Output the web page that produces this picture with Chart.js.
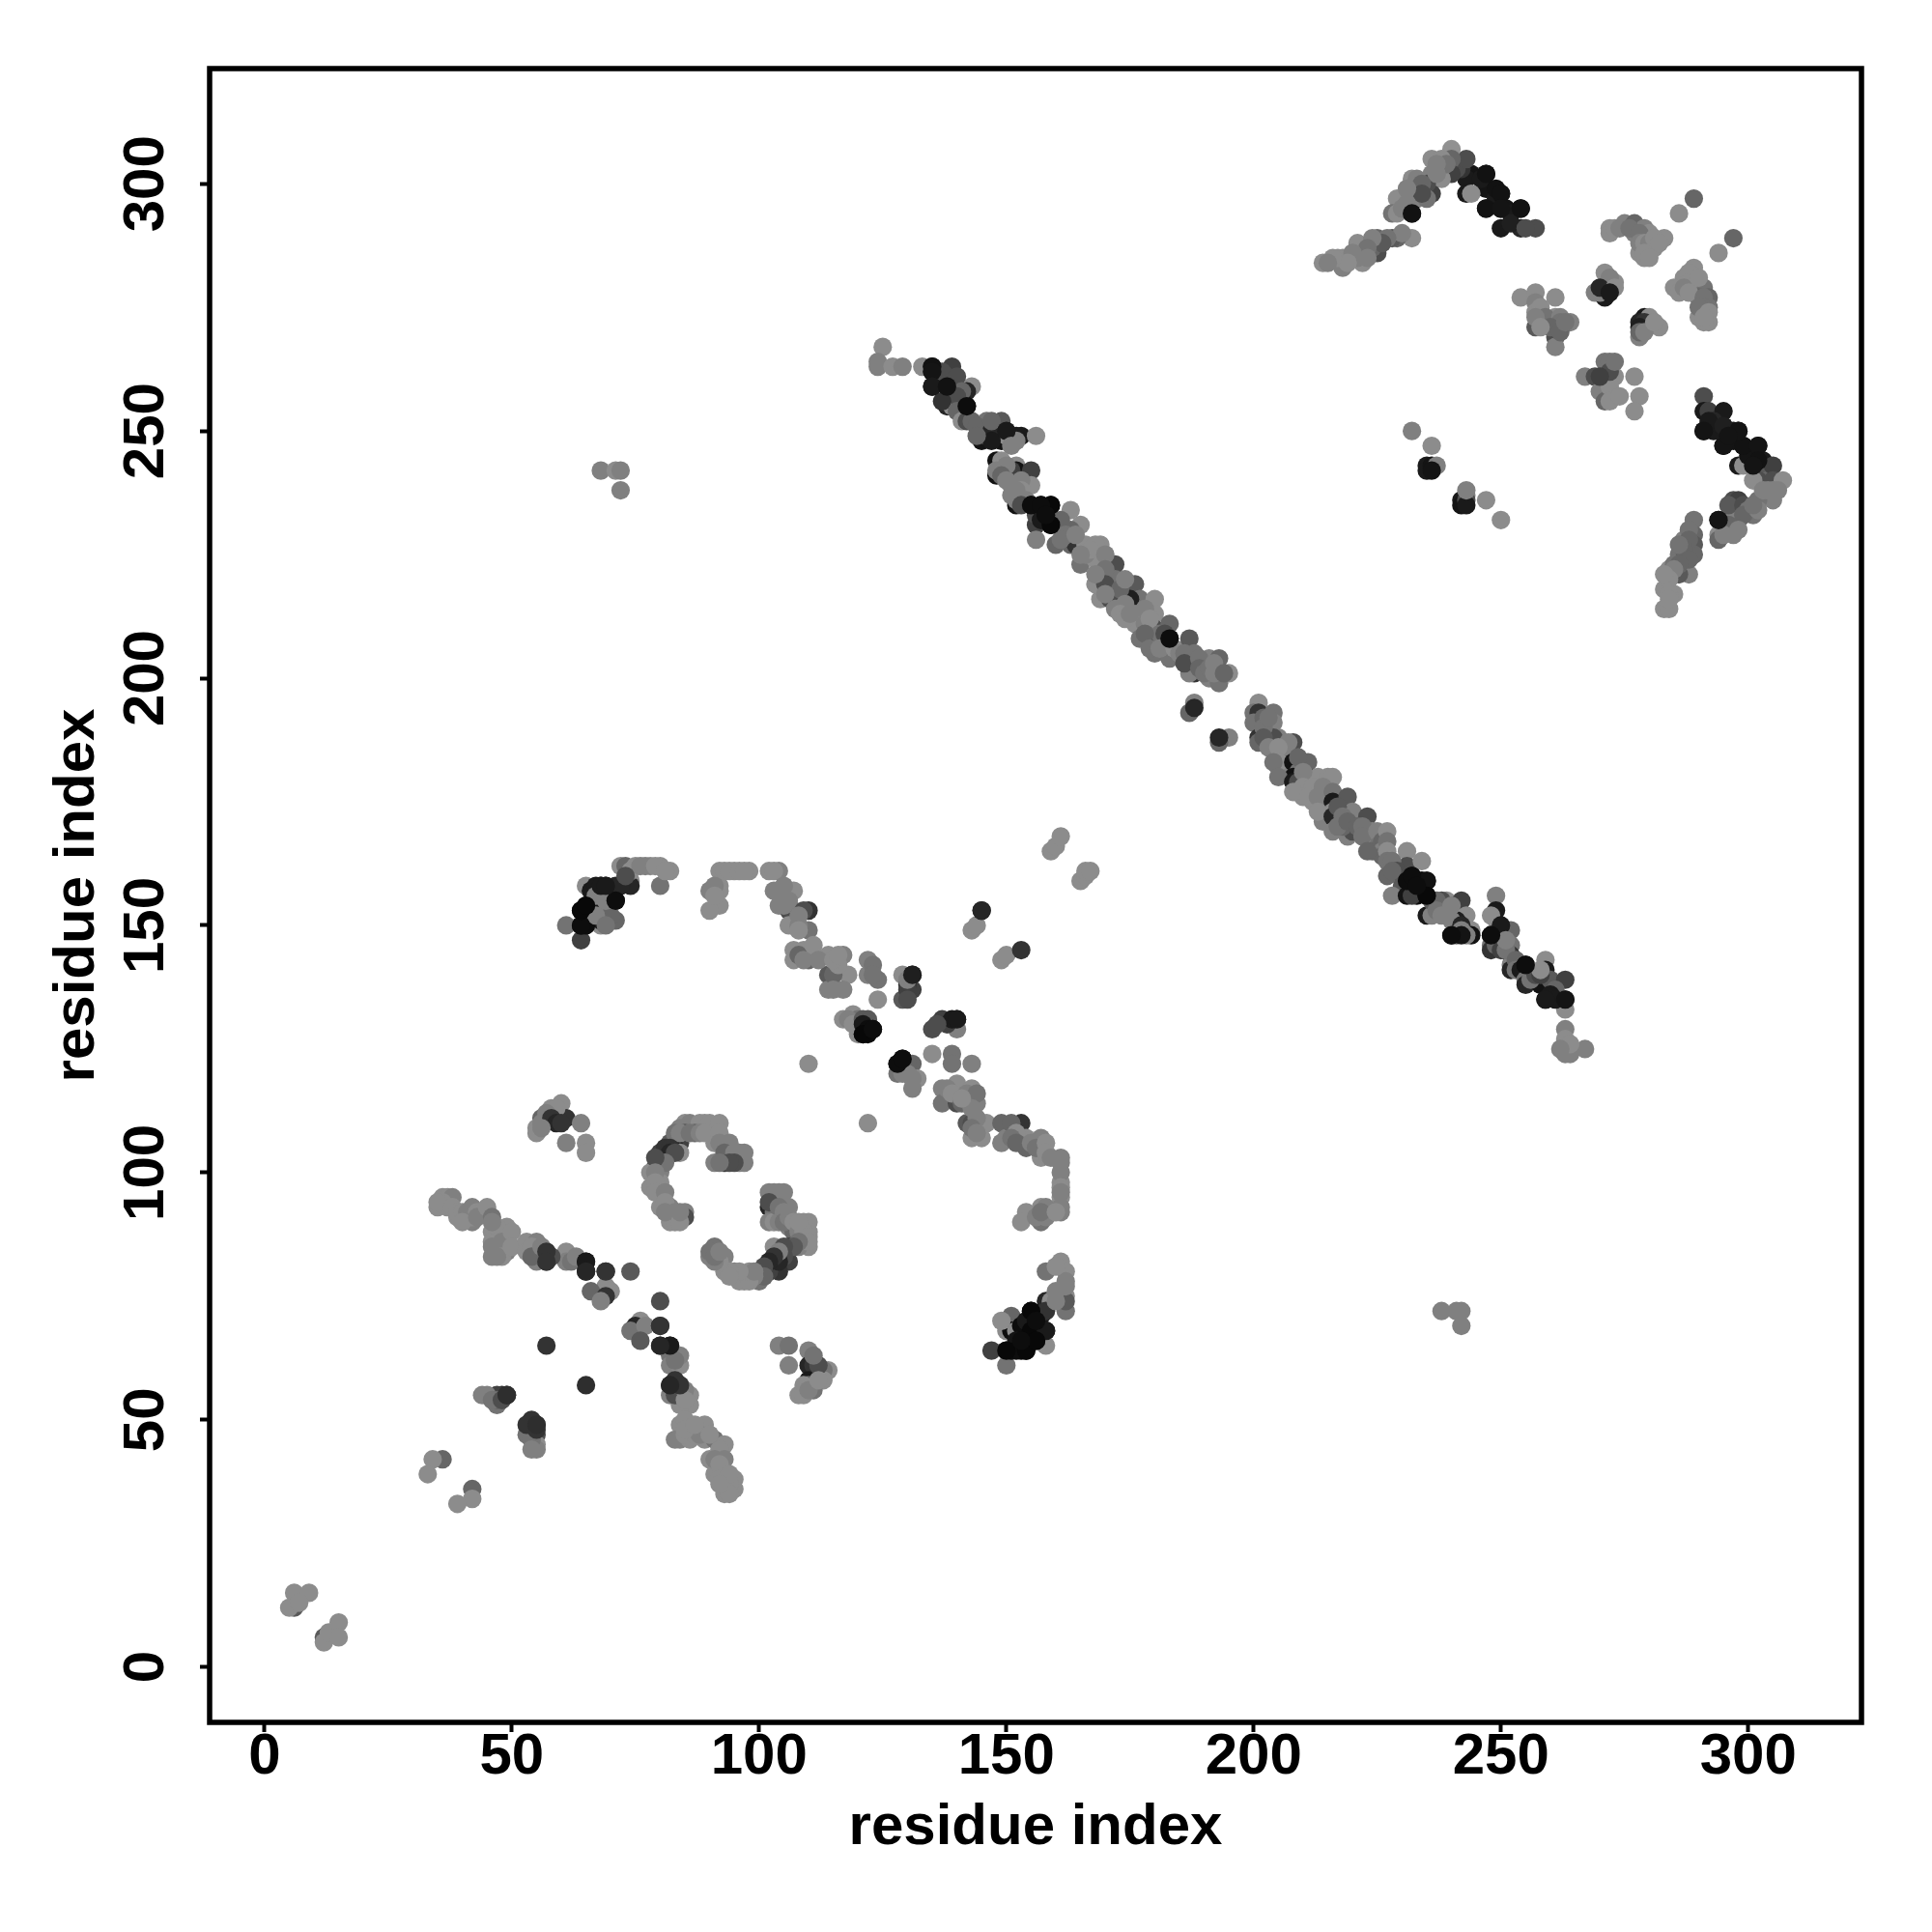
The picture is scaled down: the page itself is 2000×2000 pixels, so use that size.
<!DOCTYPE html>
<html>
<head>
<meta charset="utf-8">
<title>residue contact map</title>
<script src="https://cdn.jsdelivr.net/npm/chart.js@4/dist/chart.umd.min.js"></script>
<style>
  body { margin: 0; background: #fff; }
  canvas { display: block; }
</style>
</head>
<body>
<canvas id="contactMap" width="2000" height="2000"></canvas>
<script>
/* each contact is [residue x, residue y, grey level 0..1] */
const tickValues = [0, 50, 100, 150, 200, 250, 300];
const axisLabel = "residue index";

const cornerLow = [[6,15,.55],[9,15,.55],[6,12,.35],[5,12,.55],[7,13,.55],[12,6,.35],[12,5,.55],[13,7,.55],[15,9,.55],[15,6,.55]];

const lowStrand = [[36,42,.4],[34,42,.55],[33,39,.55],[42,36,.4],[42,34,.55],[39,33,.55],
  [48,55,.18],[47,55,.25],[44,55,.5],[45,55,.5],[47,53,.45],[47,54,.4],[46,54,.45],[48,54,.3],[49,55,.18],
  [55,49,.18],[54,48,.2],[55,47,.3],[53,47,.45],[55,45,.55],[55,44,.5],[54,46,.45],[54,44,.5],[55,48,.2],[54,50,.2],[53,49,.2],
  [57,65,.2],[65,57,.18]];

const crossDown = [[35,93,.55],[36,95,.55],[37,95,.55],[38,95,.5],[37,93,.55],[39,91,.55],[42,93,.5],[42,90,.5],[42,91,.55],
  [36,94,.55],[35,94,.55],[38,93,.55],[39,92,.55],[40,92,.55],[41,92,.5],[43,92,.55],[40,90,.55],[44,92,.55],[43,91,.5],
  [45,93,.55],[46,91,.45],[46,88,.55],[46,86,.55],[46,83,.5],[49,89,.55],[49,86,.55],[49,84,.5],[48,84,.55],
  [47,89,.55],[46,90,.5],[47,86,.55],[47,84,.5],[46,85,.5],[48,86,.5],[50,88,.55],[48,83,.55],[47,83,.5],[50,85,.55],
  [53,86,.55],[55,86,.5],[55,84,.3],[53,84,.55],[55,82,.5],[57,84,.2],[57,82,.2],[61,84,.55],[61,82,.5],[62,82,.45],
  [54,85,.55],[54,83,.4],[56,85,.5],[58,83,.3],[63,83,.5],
  [65,82,.1],[65,80,.15],[69,80,.2],[74,80,.35],[69,77,.55],[66,76,.4],[70,76,.55],[69,75,.2],[68,74,.5],
  [80,74,.3],[76,70,.55],[75,69,.15],[74,68,.45],[77,69,.5],[80,69,.2],[76,66,.35],[80,65,.15],[82,65,.1],
  [82,63,.45],[82,61,.5],[84,61,.55],[82,57,.15],[84,57,.2],[82,55,.5],[86,55,.55],[84,55,.15],[86,53,.55],[84,53,.55],
  [84,63,.5],[83,62,.45],[83,58,.2],[83,55,.3],[85,56,.5],[85,54,.55],
  [84,49,.55],[86,49,.55],[89,49,.55],[83,46,.5],[84,46,.5],[86,46,.55],[89,46,.55],[91,46,.45],[93,45,.55],
  [85,50,.55],[85,47,.55],[87,47,.55],[88,47,.5],[85,48,.55],[87,49,.55],[90,47,.55],[92,44,.55],
  [90,42,.55],[93,42,.5],[91,39,.55],[95,38,.55],[93,38,.55],[95,36,.55],[93,35,.55],
  [91,42,.5],[92,41,.55],[92,38,.55],[94,37,.55],[94,39,.55],[94,35,.55],[92,37,.55]];

const smallPatch = [[60,114,.55],[58,113,.55],[57,111,.1],[61,111,.2],[56,111,.4],[64,110,.5],[55,109,.55],[55,108,.55],[61,106,.5],[65,106,.55],[65,104,.55],
  [59,113,.55],[56,110,.5],[57,112,.5],[58,111,.2],[59,110,.15],[60,110,.2],[56,109,.5]];

const arcUpper = [[85,110,.55],[89,110,.55],[86,110,.5],[88,110,.55],[90,110,.55],[84,109,.5],[85,108,.35],[82,106,.35],[87,108,.4],[84,106,.25],
  [80,104,.25],[81,103,.07],[83,105,.15],[84,104,.55],[79,101,.3],[80,102,.2],[80,100,.5],[78,100,.55],[78,97,.55],[80,96,.5],[80,98,.55],
  [80,93,.55],[82,93,.5],[82,90,.55],[83,90,.55],[85,92,.5],[85,91,.3],
  [91,108,.55],[93,106,.5],[91,106,.55],[96,104,.5],[93,102,.2],[96,102,.5],[91,102,.5],[94,103,.45],
  [83,108,.45],[84,108,.5],[86,108,.45],[88,108,.5],[89,108,.55],[81,105,.2],[82,105,.2],[82,104,.15],[83,104,.3],[81,102,.45],[79,103,.3],[79,100,.5],[79,98,.55],[79,96,.55],
  [81,96,.5],[81,94,.55],[81,92,.5],[83,92,.5],[84,90,.55],[84,92,.5],[92,110,.55],[92,108,.55],[92,106,.5],[94,106,.5],[93,104,.4],[95,104,.5],[97,104,.5],[97,102,.5],[95,102,.3],[94,102,.3],[92,102,.45]];

const arcLower = [[103,96,.5],[102,96,.5],[103,94,.45],[102,93,.15],[103,92,.45],[106,93,.5],[102,90,.5],[106,89,.5],[110,90,.55],[110,88,.55],
  [107,88,.4],[110,85,.55],[108,85,.5],[106,85,.25],[103,85,.55],[106,82,.25],[103,81,.07],[102,80,.3],[104,80,.2],[100,78,.45],[102,80,.25],
  [100,80,.5],[97,78,.55],[96,78,.55],[95,80,.5],[93,80,.55],[90,83,.5],[91,85,.45],[93,83,.5],[90,84,.45],
  [104,96,.5],[105,96,.5],[102,94,.3],[103,90,.55],[104,93,.45],[104,90,.5],[105,92,.5],[105,90,.45],[106,91,.5],[107,90,.55],[108,88,.5],[109,90,.55],[109,88,.55],[108,90,.55],[110,87,.55],[110,86,.55],
  [108,86,.45],[107,85,.35],[105,83,.3],[105,85,.3],[104,82,.15],[104,84,.5],[103,83,.2],[102,82,.15],[101,81,.3],[101,79,.4],[99,79,.5],[98,78,.55],[98,80,.55],[99,80,.5],[96,80,.55],[94,80,.55],[94,79,.55],
  [92,82,.55],[91,82,.5],[91,83,.45],[92,84,.5]];

const hookLeft = [[64,147,.25],[61,150,.45],[64,150,.05],[64,153,.03],[65,154,.03],[71,151,.4],[68,150,.55],[68,151,.1],[68,152,.55],[68,154,.45],
  [71,155,.05],[68,158,.1],[69,158,.1],[65,158,.55],[71,158,.15],[74,159,.55],[74,158,.15],[72,162,.55],[73,162,.4],[75,162,.55],[78,162,.55],[80,162,.55],[80,158,.45],[82,161,.55],
  [65,152,.05],[65,150,.05],[66,154,.1],[66,157,.1],[67,158,.1],[70,157,.1],[70,155,.1],[72,158,.15],[70,152,.4],[67,152,.5],[69,150,.45],[67,156,.5],[69,155,.5],[74,161,.55],[76,162,.5],[73,160,.3],[77,162,.5],[79,162,.55],[81,161,.55]];

const crossUp = [[92,161,.55],[95,161,.55],[98,161,.55],[102,161,.55],[104,161,.5],[90,157,.5],[92,158,.55],[92,157,.55],[92,154,.55],[90,153,.55],
  [93,161,.55],[94,161,.55],[96,161,.55],[97,161,.55],[103,161,.55],[91,158,.5],[91,156,.55],
  [103,157,.5],[107,157,.55],[104,154,.5],[107,153,.55],[106,153,.3],[110,153,.2],[110,149,.45],[107,150,.5],[106,150,.55],
  [105,158,.5],[105,155,.5],[106,155,.5],[105,154,.5],[108,150,.5],[109,153,.3],[108,152,.5],[108,149,.55],
  [107,145,.55],[107,143,.55],[110,145,.55],[111,144,.55],[110,143,.4],[114,144,.55],[117,144,.5],[114,140,.35],[118,140,.55],[114,137,.5],[117,137,.5],
  [109,145,.55],[108,144,.4],[109,143,.5],[111,146,.55],[112,143,.5],[115,140,.4],[116,142,.55],[115,143,.55],[116,144,.55],[115,137,.5],
  [122,143,.5],[122,140,.5],[124,139,.45],[124,135,.55],[129,140,.55],[131,140,.12],[131,137,.25],[129,135,.35],
  [123,142,.45],[123,140,.45],[130,138,.2],[130,137,.25],[130,135,.3],[130,139,.5],
  [117,131,.55],[119,132,.55],[120,131,.45],[122,131,.35],[120,128,.55],[121,128,.03],[123,129,.05],[128,122,.05],[129,123,.05],[128,120,.45],[131,122,.4],[132,119,.55],[131,117,.5],
  [118,131,.5],[119,130,.55],[121,131,.35],[121,130,.1],[122,129,.05],[122,128,.04],[129,121,.1],[130,122,.4],[129,120,.5],[130,120,.5],[131,119,.5],
  [135,129,.3],[137,131,.25],[140,131,.1],[140,129,.5],[135,124,.55],[139,124,.45],[139,122,.45],[143,122,.5],[138,130,.25],[139,131,.1],[136,130,.3],
  [137,117,.5],[140,118,.55],[143,117,.55],[137,114,.45],[140,114,.3],[144,114,.5],[142,110,.35],[143,110,.3],[146,110,.55],[143,107,.55],[145,107,.55],
  [138,117,.5],[139,116,.55],[142,116,.5],[144,116,.45],[141,114,.4],[143,113,.5],[141,115,.55],[144,111,.5],[143,109,.45],[144,108,.5],
  [149,110,.4],[153,110,.2],[150,107,.5],[149,106,.5],[154,107,.55],[154,105,.4],[157,107,.5],[157,104,.5],[157,103,.55],[161,103,.5],[161,102,.5],
  [151,110,.4],[152,108,.55],[151,107,.45],[152,106,.4],[155,106,.5],[156,106,.5],[156,105,.45],[158,106,.55],[158,104,.55],[159,103,.5],
  [161,98,.55],[161,95,.55],[161,92,.5],[157,93,.55],[157,90,.45],[154,92,.55],[153,90,.55],
  [161,100,.5],[161,97,.55],[161,96,.5],[161,93,.5],[158,93,.5],[158,91,.5],[156,91,.5],[157,92,.45],[160,92,.55],
  [110,122,.55],[122,110,.55]];

const offDiagonal = [[143,149,.55],[144,150,.55],[145,153,.15],[149,143,.55],[150,144,.55],[153,145,.2],
  [159,165,.55],[160,166,.55],[161,168,.55],[165,159,.55],[166,160,.55],[166,161,.55],[167,161,.55]];

const blackClump = [[161,82,.55],[158,80,.45],[162,80,.55],[162,78,.5],[162,75,.55],[162,72,.45],[162,74,.35],[158,74,.15],[159,74,.55],[155,72,.03],
  [158,68,.1],[155,68,.03],[151,71,.4],[150,68,.55],[151,68,.05],[152,68,.55],[158,65,.55],[154,64,.03],[150,64,.03],[147,64,.25],[150,61,.45],[151,64,.05],
  [153,69,.05],[154,70,.1],[156,70,.05],[157,71,.1],[153,66,.05],[156,66,.03],[152,66,.08],[153,64,.03],[155,66,.03],[158,72,.2],[160,74,.5],[160,76,.5],[160,81,.55],[162,77,.5],[149,70,.55],[152,64,.05]];

const nearClump = [[104,65,.5],[106,65,.45],[110,64,.5],[106,61,.5],[110,61,.15],[111,61,.2],[110,58,.1],[114,60,.55],[113,60,.45],[113,58,.55],[110,57,.4],[109,57,.55],[108,55,.55],[109,55,.55],
  [112,61,.3],[111,56,.45],[110,56,.5],[112,58,.55],[111,63,.45]];

const farPatches = [[68,242,.5],[71,242,.55],[72,242,.5],[72,238,.5],[238,72,.5],[241,72,.5],[242,72,.5],[242,69,.5]];

const diagonalUpper = [[125,267,.55],[124,264,.5],[124,263,.5],[127,263,.55],[129,263,.5],[133,263,.55],[135,263,.07],[135,262,.08],[135,259,.1],
  [139,263,.25],[138,261,.3],[138,259,.07],[139,259,.35],[143,259,.55],[142,258,.15],[142,255,.05],[138,255,.15],[139,255,.55],
  [136,260,.08],[136,262,.1],[137,262,.3],[140,261,.3],[141,258,.4],[140,257,.3],[137,256,.2],[140,254,.4],
  [141,252,.55],[142,252,.3],[146,252,.45],[149,252,.35],[145,248,.08],[146,249,.45],[149,248,.08],[150,249,.55],[152,249,.1],[153,249,.1],[156,249,.55],[152,248,.5],
  [143,252,.4],[144,251,.4],[147,250,.15],[147,248,.1],[144,249,.4],[147,252,.4],[150,250,.1],[151,247,.5],
  [148,244,.07],[149,244,.55],[148,241,.07],[148,242,.5],[152,243,.55],[152,242,.08],[155,242,.25],[151,242,.25],[151,239,.5],[155,239,.55],
  [150,243,.5],[149,241,.4],[150,240,.5],[153,240,.5],[153,238,.55],[151,237,.5],[152,238,.5],[154,236,.5],
  [152,235,.08],[152,236,.5],[155,235,.05],[159,235,.03],[156,231,.25],[159,231,.03],[156,228,.5],[160,227,.4],[163,234,.55],[165,231,.55],[163,230,.4],[163,227,.4],[164,227,.2],[166,227,.55],[169,227,.55],[168,227,.55],
  [153,235,.3],[157,235,.05],[156,233,.3],[157,232,.1],[158,233,.05],[161,232,.4],[162,229,.45],[161,228,.45],[164,229,.5],
  [165,223,.45],[169,224,.55],[168,224,.55],[172,223,.3],[169,220,.25],[169,216,.55],[168,219,.55],[172,220,.45],[176,219,.35],[172,216,.12],[171,216,.3],[177,216,.45],[175,216,.12],[180,216,.55],
  [166,225,.5],[167,226,.55],[165,225,.5],[170,225,.5],[170,222,.45],[170,219,.3],[168,221,.5],[173,218,.4],[174,220,.5],[170,217,.5],[172,214,.5],[174,215,.5],
  [173,213,.55],[176,213,.5],[180,213,.55],[176,211,.55],[177,208,.45],[180,210,.3],[183,211,.4],[180,208,.12],[181,209,.45],[183,208,.05],[180,205,.45],[183,205,.5],[183,204,.45],
  [174,212,.55],[175,213,.5],[178,214,.5],[178,211,.5],[179,212,.55],[178,209,.4],[179,206,.45],[182,209,.3],[181,206,.5],[184,206,.55],[185,205,.5],
  [187,208,.35],[188,205,.45],[187,203,.15],[188,201,.2],[187,201,.5],[191,204,.5],[193,204,.4],[191,200,.5],[193,200,.15],[193,199,.45],[195,201,.55],
  [186,205,.45],[186,203,.3],[189,204,.45],[189,202,.4],[190,201,.45],[191,202,.45],[192,203,.5],[192,201,.5],[194,201,.4],
  [188,195,.5],[187,193,.4],[188,194,.15],[195,188,.5],[193,187,.4],[193,188,.15]];

const diagonalLower = [[201,195,.55],[200,193,.45],[201,193,.2],[204,193,.45],[200,191,.45],[204,191,.5],[201,188,.2],[201,187,.4],[205,188,.5],[204,188,.3],
  [202,192,.4],[202,190,.45],[203,192,.45],[202,188,.35],[203,186,.5],[206,185,.55],[206,183,.5],[205,182,.5],[206,181,.45],[206,184,.5],[207,182,.5],
  [208,187,.3],[207,187,.5],[205,186,.55],[205,183,.55],[204,183,.45],[208,183,.07],[211,183,.4],[209,181,.45],[208,180,.07],[205,180,.45],[211,180,.3],[208,179,.1],[213,180,.55],[215,180,.55],[216,180,.55],
  [209,184,.4],[209,179,.3],[210,181,.5],[210,178,.55],[210,176,.55],[212,178,.55],[212,175,.55],[214,178,.5],[214,174,.5],[215,172,.3],[214,171,.5],
  [208,177,.55],[211,176,.55],[213,176,.5],[216,177,.45],[216,175,.1],[219,176,.35],[216,173,.55],[213,173,.55],[216,172,.15],[220,173,.5],[223,172,.3],[216,169,.5],[219,168,.5],[220,169,.3],[224,169,.5],
  [217,174,.35],[218,172,.45],[218,170,.4],[217,170,.45],[219,171,.4],[221,170,.4],[222,170,.45],[222,168,.45],[225,169,.5],[225,166,.45],[226,167,.4],[224,165,.4],[226,165,.5],[226,164,.4],
  [227,169,.55],[227,167,.45],[227,165,.55],[223,165,.4],[227,163,.45],[227,160,.4],[231,165,.55],[231,162,.3],[234,163,.55],[231,159,.05],[234,159,.05],[235,159,.07],
  [228,163,.45],[229,161,.3],[228,161,.4],[230,158,.35],[232,160,.05],[233,158,.05],[233,156,.05],[234,157,.03],
  [228,156,.5],[231,156,.08],[232,156,.25],[235,156,.03],[239,155,.55],[242,155,.25],[238,155,.3],[235,152,.1],[236,152,.5],[239,152,.45],[243,152,.55],[241,151,.12],[240,148,.05],[241,148,.4],[244,149,.55],[244,148,.07],
  [236,155,.35],[237,155,.4],[237,153,.45],[238,152,.5],[240,154,.5],[240,151,.5],[242,150,.15],[243,148,.5],[242,149,.5],[242,148,.08],
  [249,156,.5],[249,153,.1],[248,152,.55],[249,149,.55],[248,148,.05],[248,146,.45],[248,145,.2],[252,149,.4],[252,146,.45],[252,144,.2],[252,142,.5],[252,141,.15],
  [250,147,.4],[249,146,.4],[250,145,.25],[251,145,.45],[250,150,.1],[251,147,.5],[253,143,.4],[253,141,.45],[254,141,.1],
  [255,142,.05],[255,139,.45],[255,138,.15],[259,143,.55],[259,141,.1],[258,138,.07],[260,139,.35],[263,139,.25],[259,135,.1],[262,135,.1],[263,135,.08],[263,133,.55],[263,129,.5],[263,127,.55],[263,124,.5],[264,124,.5],[267,125,.5],
  [256,139,.45],[257,140,.3],[258,140,.25],[261,137,.4],[260,136,.1],[261,135,.1],[258,141,.55],[264,126,.55],[262,125,.5]];

const strandTop = [[247,302,.07],[244,302,.08],[243,301,.1],[247,299,.08],[250,298,.07],[247,295,.07],[250,295,.08],[251,295,.08],[254,295,.07],[250,291,.1],[254,291,.15],[257,291,.3],
  [246,301,.1],[249,297,.1],[249,299,.07],[252,294,.1],[252,292,.12],[255,291,.3],[242,303,.2],[241,303,.3],
  [243,305,.3],[240,307,.57],[240,305,.4],[236,305,.55],[238,305,.55],[240,302,.25],[243,298,.1],[244,298,.55],[238,301,.55],[236,302,.5],[236,298,.25],[235,300,.3],[232,301,.55],[233,301,.5],[232,297,.35],[233,297,.5],[229,297,.55],[235,297,.45],[228,294,.45],[229,294,.55],[232,294,.07],
  [239,304,.45],[237,304,.5],[237,302,.5],[234,300,.4],[234,298,.3],[231,296,.5],[231,299,.5],[230,295,.5],
  [232,289,.55],[229,289,.4],[228,289,.35],[225,289,.4],[225,286,.3],[221,288,.55],[224,287,.4],[222,284,.55],[221,285,.5],[218,285,.55],[218,283,.5],[217,285,.55],[214,284,.55],
  [230,290,.5],[227,289,.45],[226,288,.35],[224,289,.5],[223,287,.45],[223,285,.5],[220,286,.5],[219,284,.55],[216,285,.55],[215,284,.5]];

const cornerTopRight = [[289,297,.4],[286,294,.55],[297,289,.4],[294,286,.55],
  [272,291,.55],[272,290,.55],[275,292,.5],[277,292,.4],[277,290,.5],[279,291,.5],[280,290,.55],[283,289,.55],[280,287,.55],[278,286,.55],[279,285,.55],[281,287,.55],
  [273,291,.55],[274,291,.5],[276,291,.45],[278,290,.45],[278,288,.5],[279,288,.55],[280,288,.5],[281,289,.55],[279,286,.55],[282,288,.55],[280,285,.55],
  [289,283,.55],[287,281,.55],[285,279,.55],[286,278,.55],[289,280,.55],[291,279,.45],[292,277,.4],[292,275,.45],[290,277,.4],[290,273,.55],[292,272,.55],[291,272,.55],
  [288,282,.55],[288,280,.55],[287,279,.5],[288,278,.55],[290,281,.55],[291,277,.45],[291,275,.45],[291,274,.5],[290,275,.45],[292,274,.55],[291,273,.55],
  [271,282,.55],[273,280,.55],[272,279,.1],[271,278,.15],[269,278,.5],[271,277,.1],[272,281,.5],[270,278,.5],[270,279,.15],[273,279,.55],[272,278,.1],
  [279,273,.1],[280,273,.55],[282,271,.55],[278,272,.15],[278,269,.5],[279,271,.3],[279,272,.2],[278,271,.12],[278,270,.4],[279,270,.5],[281,272,.55],
  [254,277,.55],[257,278,.55],[257,276,.5],[261,277,.55],[257,274,.55],[264,272,.5],[261,273,.55],[258,272,.5],[257,271,.35],[261,271,.1],[261,269,.3],[261,267,.5],
  [258,275,.55],[259,273,.45],[262,273,.5],[262,272,.45],[257,273,.5],[260,271,.4],[262,270,.4],[263,272,.45],[258,271,.55],
  [271,264,.45],[272,264,.45],[267,261,.5],[269,261,.3],[271,261,.1],[273,261,.55],[277,261,.55],[271,257,.4],[272,257,.55],[273,257,.55],[278,257,.55],[277,254,.55],[271,259,.55],
  [270,258,.5],[271,256,.4],[272,259,.55],[272,262,.3],[273,264,.45],[270,261,.25],[272,256,.55],[274,257,.55]];

const strandRight = [[291,257,.3],[291,254,.1],[292,254,.25],[295,254,.1],[291,250,.08],[295,251,.12],[298,250,.08],[295,247,.08],[299,247,.07],[302,247,.08],[302,244,.07],[301,243,.08],[298,243,.1],[299,243,.55],
  [293,252,.15],[293,250,.1],[292,252,.1],[296,249,.08],[297,248,.08],[297,250,.1],[300,245,.08],[303,244,.1],[304,242,.25],[303,241,.35],[304,240,.4],
  [305,243,.25],[302,240,.3],[305,240,.3],[307,240,.55],[301,240,.55],[305,236,.5],[302,236,.45],[297,236,.3],[298,236,.25],[301,233,.45],[298,232,.35],[294,232,.08],[297,229,.5],[294,229,.55],[294,228,.4],[297,233,.5],
  [304,238,.5],[303,238,.5],[306,238,.5],[305,238,.5],[296,235,.35],[299,235,.3],[300,234,.45],[299,233,.4],[296,231,.4],[298,230,.5],[295,229,.5],[302,234,.5],[301,235,.45],
  [289,232,.45],[289,229,.4],[287,228,.5],[289,227,.35],[286,225,.45],[289,225,.4],[287,224,.35],[284,222,.55],[285,221,.45],[288,221,.5],[286,221,.35],[283,218,.55],[285,217,.55],[283,214,.55],[284,214,.55],
  [288,230,.45],[288,228,.4],[287,226,.4],[286,227,.45],[288,224,.4],[285,223,.45],[286,223,.4],[285,222,.5],[284,220,.55],[283,221,.55],[284,217,.55],[284,216,.55]];

const midPatch = [[232,250,.5],[236,247,.55],[235,243,.1],[235,242,.1],[236,243,.08],[237,243,.5],[243,237,.5],[242,236,.1],[242,235,.08],[247,236,.55],[250,232,.55],
  [236,242,.08],[243,236,.3],[243,235,.1],[243,238,.5]];

// these sit above their lighter neighbours in the reference
const topContacts = [[155,235,.05],[159,235,.03],[159,231,.03],[157,235,.05],[158,233,.05],[142,255,.05],[135,263,.07],[135,262,.08],[135,259,.1],[138,259,.07],[183,208,.05],
  [234,159,.05],[235,159,.07],[231,159,.05],[232,160,.05],[235,156,.03],[233,158,.05],[255,142,.05],[248,148,.05],[240,148,.05],[263,135,.08],[259,135,.1],
  [295,247,.08],[299,247,.07],[302,247,.08],[302,244,.07],[301,243,.08],[291,250,.08],[295,251,.12],[298,250,.08],[296,249,.08],
  [247,302,.07],[250,298,.07],[247,295,.07],[250,295,.08],[254,295,.07],[232,294,.07],[294,232,.08],
  [155,72,.03],[155,68,.03],[154,64,.03],[150,64,.03],[158,68,.1],[156,70,.05],[156,66,.03],[153,66,.05],
  [64,150,.05],[64,153,.03],[65,154,.03],[71,155,.05],[68,158,.1],[69,158,.1],
  [145,153,.15],[131,140,.12],[140,131,.1],[121,128,.03],[123,129,.05],[128,122,.05],[129,123,.05],
  [65,82,.1],[65,80,.15],[82,65,.1],[80,65,.15],[80,69,.2],[69,80,.2],[57,84,.2],[57,82,.2],[49,55,.18],[55,49,.18],[84,57,.2],[82,57,.15]];

const regions = [topContacts, cornerLow, lowStrand, crossDown, smallPatch, arcUpper, arcLower, hookLeft, crossUp, offDiagonal,
  blackClump, nearClump, farPatches, diagonalUpper, diagonalLower, strandTop, cornerTopRight, strandRight, midPatch];

const labelFont = { family: "'Liberation Sans', Arial, sans-serif", size: 60, weight: "bold" };

const grey = s => {
  const v = Math.round(s * 255);
  return `rgb(${v},${v},${v})`;
};

const datasets = regions.map(rows => ({
  data: rows.map(r => ({ x: r[0], y: r[1] })),
  pointBackgroundColor: rows.map(r => grey(r[2])),
  pointBorderWidth: 0,
  pointRadius: 9.6
}));

// R style box round the plot region
const boxPlugin = {
  id: "box",
  afterDraw(chart) {
    const { ctx, chartArea: a } = chart;
    ctx.save();
    ctx.strokeStyle = "#000";
    ctx.lineWidth = 5.5;
    ctx.strokeRect(a.left, a.top, a.right - a.left, a.bottom - a.top);
    ctx.restore();
  }
};

const axisBase = {
  type: "linear",
  afterBuildTicks: s => { s.ticks = tickValues.map(v => ({ value: v })); },
  grid: { drawOnChartArea: false, drawTicks: true, tickLength: 10, tickWidth: 4, tickColor: "#000" },
  border: { display: false }
};

new Chart(document.getElementById("contactMap"), {
  type: "scatter",
  data: { datasets },
  plugins: [boxPlugin],
  options: {
    responsive: false,
    animation: false,
    devicePixelRatio: 1,
    layout: { padding: { top: 71, right: 73, left: 0, bottom: 0 } },
    plugins: { legend: { display: false }, tooltip: { enabled: false } },
    scales: {
      x: {
        ...axisBase,
        min: -11.1,
        max: 322.9,
        afterFit: s => { s.height = 217; },
        ticks: { color: "#000", font: labelFont, padding: -10, maxRotation: 0, autoSkip: false },
        title: { display: true, text: axisLabel, color: "#000", font: labelFont, padding: { top: 72, bottom: 72 } }
      },
      y: {
        ...axisBase,
        min: -11.2,
        max: 323.3,
        afterFit: s => { s.width = 217; },
        ticks: { color: "#000", font: labelFont, padding: 4, minRotation: 90, maxRotation: 90, crossAlign: "center", autoSkip: false },
        title: { display: true, text: axisLabel, color: "#000", font: labelFont, padding: { top: 44, bottom: 44 } }
      }
    }
  }
});
</script>
</body>
</html>
